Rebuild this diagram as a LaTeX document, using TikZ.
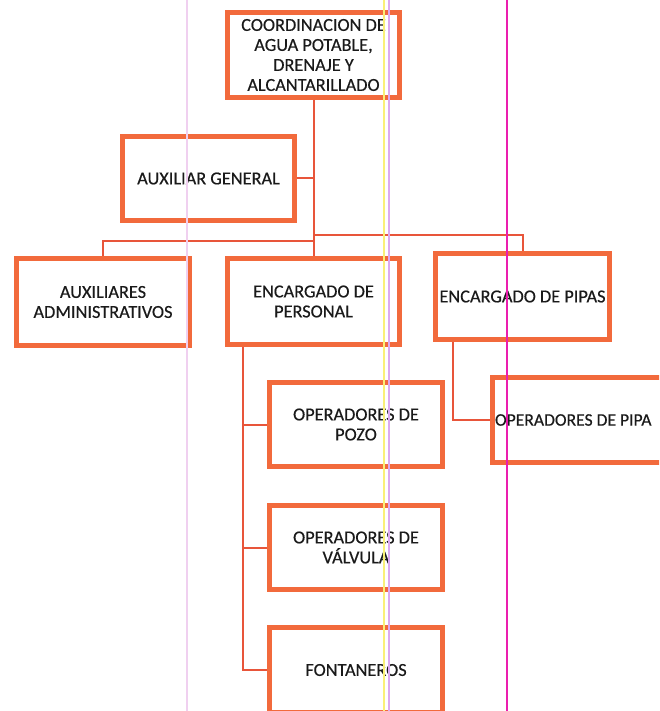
\documentclass[tikz,border=0pt]{standalone}
\usepackage{fontspec}
\setmainfont{Carlito}[FakeBold=0.4]
\usepackage{tikz}
\usetikzlibrary{positioning}

\definecolor{borde}{HTML}{F26A3C}
\definecolor{linea}{HTML}{E8553A}
\definecolor{texto}{HTML}{1A1A1A}

\tikzset{
  cajon/.style={draw=borde, line width=5pt, fill=white, align=center, inner sep=0pt,
    text=texto, font=\fontsize{18.3}{20}\selectfont},
  enlace/.style={draw=linea, line width=2pt},
}

\begin{document}
\begin{tikzpicture}[x=1pt, y=-1pt]
\useasboundingbox (0,0) rectangle (659,711);
\clip (0,0) rectangle (659,711);
% boxes
\node[cajon, minimum width=172, minimum height=85] (coord) at (313.5,55)
  {COORDINACION DE\\AGUA POTABLE,\\DRENAJE Y\\ALCANTARILLADO};
\node[cajon, minimum width=172, minimum height=84] (auxgen) at (208.5,178.5) {AUXILIAR GENERAL};
\node[cajon, minimum width=173, minimum height=87] (auxadm) at (103,302) {AUXILIARES\\ADMINISTRATIVOS};
\node[cajon, minimum width=172, minimum height=86] (encper) at (313.5,301.5) {ENCARGADO DE\\PERSONAL};
\node[cajon, minimum width=174, minimum height=86] (encpip) at (522.5,296.5) {ENCARGADO DE PIPAS};
\node[cajon, minimum width=173, minimum height=84] (oppozo) at (356,424.5) {OPERADORES DE\\POZO};
\node[cajon, minimum width=173, minimum height=84] (opval) at (356,547.5) {OPERADORES DE\\V\'ALVULA};
\node[cajon, minimum width=173, minimum height=85] (fontan) at (356,670) {FONTANEROS};
\node[cajon, minimum height=85, inner xsep=2.5pt, font=\fontsize{17.6}{20}\selectfont] (oppipa) at (590,420)
  {\makebox[190pt][l]{OPERADORES DE PIPA}};
% connectors
\coordinate (busL) at (313.5,241);
\coordinate (busR) at (313.5,235);
\coordinate (ramaP) at (243,0);
\coordinate (ramaE) at (453,0);
\draw[enlace] (coord) -- (encper);
\draw[enlace] (auxgen.east) -- (auxgen.east -| coord);
\draw[enlace] (busL) -| (auxadm.north);
\draw[enlace] (busR) -| (encpip.north);
\draw[enlace] (encper.south -| ramaP) |- (fontan.west);
\draw[enlace] (oppozo.west -| ramaP) -- (oppozo.west);
\draw[enlace] (opval.west -| ramaP) -- (opval.west);
\draw[enlace] (encpip.south -| ramaE) |- (oppipa.west);
% scan stripes
\draw[draw={rgb,255:red,240;green,208;blue,240}, line width=1.5pt] (187,0) -- (187,711);
\draw[draw={rgb,255:red,250;green,240;blue,120}, line width=2pt] (383.5,0) -- (383.5,711);
\draw[draw={rgb,255:red,220;green,170;blue,240}, line width=1.5pt] (389,0) -- (389,711);
\draw[draw={rgb,255:red,235;green,30;blue,175}, line width=2pt] (507,0) -- (507,711);
\end{tikzpicture}
\end{document}
